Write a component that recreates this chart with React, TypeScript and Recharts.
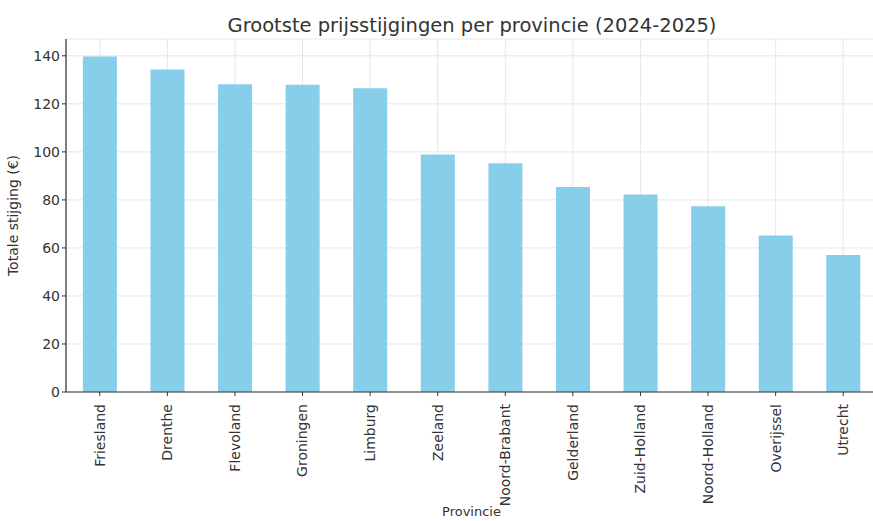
import React from 'react';
import { BarChart, Bar, XAxis, YAxis, CartesianGrid, Label } from 'recharts';

const provinces = [
  'Friesland', 'Drenthe', 'Flevoland', 'Groningen', 'Limburg', 'Zeeland',
  'Noord-Brabant', 'Gelderland', 'Zuid-Holland', 'Noord-Holland', 'Overijssel', 'Utrecht',
];
const increases = [139.7, 134.3, 128.2, 128.0, 126.5, 98.9, 95.3, 85.4, 82.2, 77.4, 65.2, 57.1];
const yTicks = [0, 20, 40, 60, 80, 100, 120, 140];

const data = provinces.map((p, i) => ({ provincie: p, stijging: increases[i] }));

const font = '"DejaVu Sans", Verdana, sans-serif';
const textColor = '#333333';

const XTick = (props: any) => {
  const { x, y, payload } = props;
  return (
    <g transform={`translate(${x},${y})`}>
      <text
        transform="rotate(-90)"
        x={-6}
        y={0}
        dy="0.35em"
        textAnchor="end"
        fill={textColor}
        fontSize={14}
        fontFamily={font}
      >
        {payload.value}
      </text>
    </g>
  );
};

export default function App() {
  return (
    <div style={{ position: 'absolute', left: 0, top: 0, width: 873, height: 521, overflow: 'hidden', background: '#fff' }}>
      <BarChart
        width={880}
        height={521}
        data={data}
        margin={{ top: 39, right: 3, bottom: 0, left: 0 }}
        barCategoryGap="25%"
      >
        <text x={472} y={32} textAnchor="middle" fill={textColor} fontSize={19.5} fontFamily={font}>
          Grootste prijsstijgingen per provincie (2024-2025)
        </text>
        <CartesianGrid stroke="#e6e6e6" strokeDasharray="" />
        <XAxis
          dataKey="provincie"
          height={129}
          interval={0}
          tick={<XTick />}
          tickSize={4}
          axisLine={{ stroke: textColor, strokeWidth: 1.2 }}
          tickLine={{ stroke: textColor }}
        >
          <Label value="Provincie" position="insideBottom" offset={5} fill={textColor} fontSize={13} fontFamily={font} />
        </XAxis>
        <YAxis
          width={66}
          domain={[0, 147]}
          ticks={yTicks}
          interval={0}
          tickSize={4}
          tick={{ fill: textColor, fontSize: 14, fontFamily: font }}
          axisLine={{ stroke: textColor, strokeWidth: 1.2 }}
          tickLine={{ stroke: textColor }}
        >
          <Label value="Totale stijging (€)" angle={-90} position="insideLeft" offset={13} fill={textColor} fontSize={14} fontFamily={font} style={{ textAnchor: 'middle' }} />
        </YAxis>
        <Bar dataKey="stijging" fill="#87CEEB" isAnimationActive={false} />
      </BarChart>
    </div>
  );
}
